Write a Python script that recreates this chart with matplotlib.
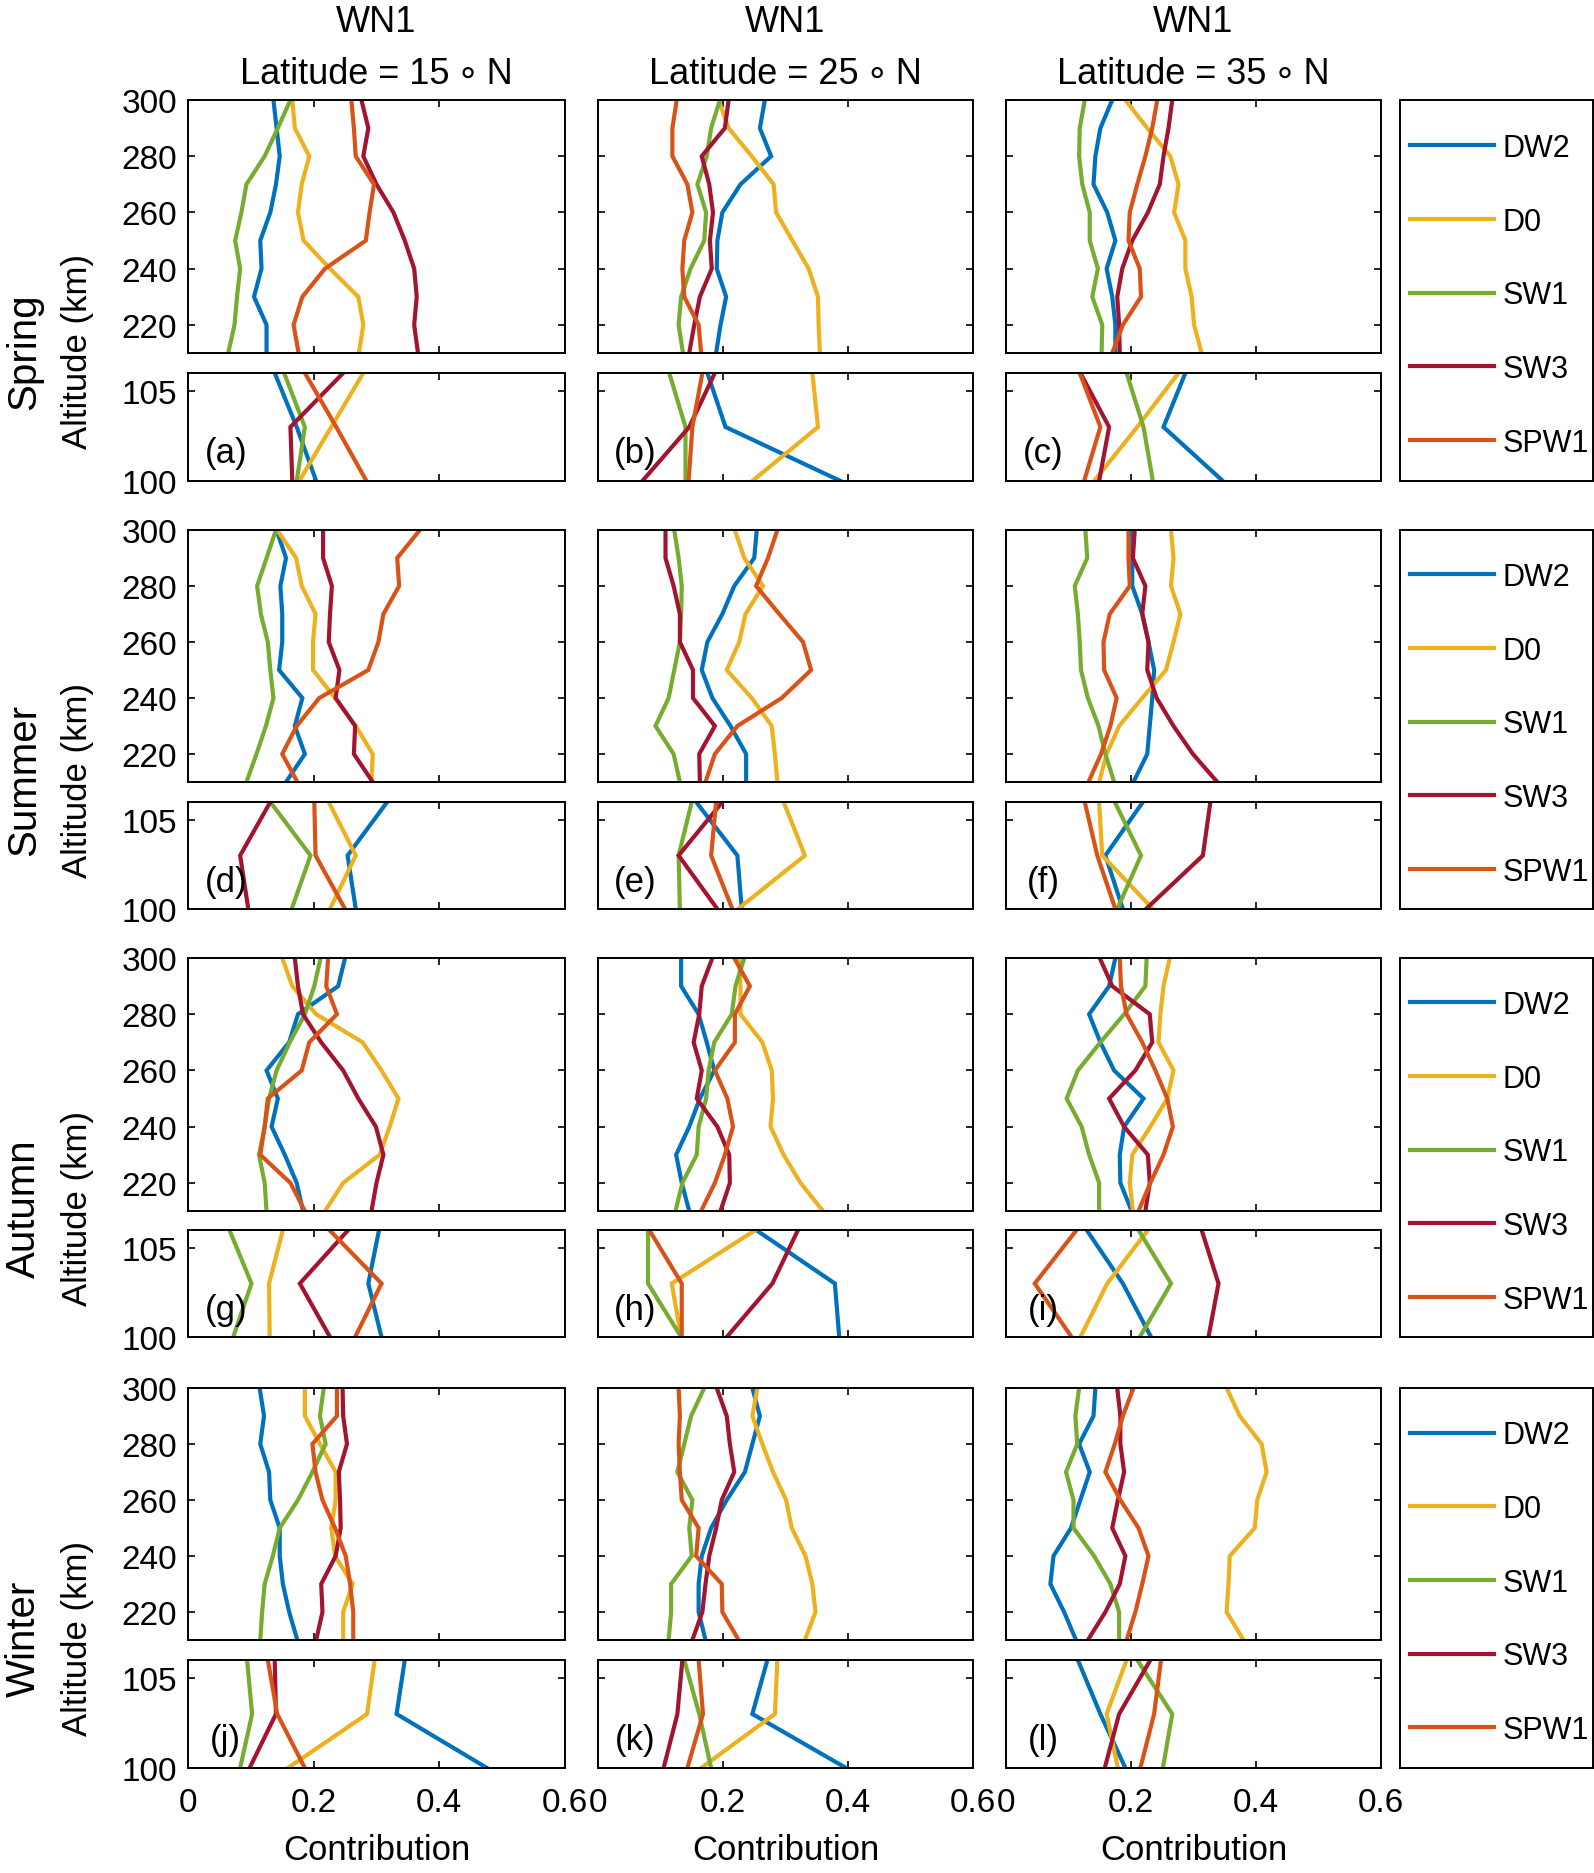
import matplotlib
matplotlib.use("Agg")
import matplotlib.pyplot as plt
import numpy as np

# ---------------- data ----------------
series = ["DW2", "D0", "SW1", "SW3", "SPW1"]
colors = ["#0072BD", "#EDB120", "#77AC30", "#A2142F", "#D95319"]
alt_upper = [210, 220, 230, 240, 250, 260, 270, 280, 290, 300]
alt_lower = [100, 103, 106]
seasons = ["Spring", "Summer", "Autumn", "Winter"]
latitudes = [15, 25, 35]
panel_letters = ["a", "b", "c", "d", "e", "f", "g", "h", "i", "j", "k", "l"]
xtick_vals = [0, 0.2, 0.4, 0.6]
xtick_labels = ["0", "0.2", "0.4", "0.6"]

# rows: DW2, D0, SW1, SW3, SPW1
a_up = [[0.125,0.125,0.105,0.117,0.115,0.131,0.140,0.146,0.141,0.136],
        [0.272,0.279,0.271,0.226,0.184,0.175,0.181,0.193,0.170,0.166],
        [0.064,0.074,0.078,0.083,0.075,0.085,0.093,0.122,0.143,0.163],
        [0.366,0.360,0.364,0.360,0.345,0.327,0.300,0.279,0.287,0.276],
        [0.176,0.168,0.182,0.218,0.283,0.289,0.296,0.267,0.264,0.260]]
a_lo = [[0.204,0.173,0.138],[0.177,0.228,0.279],[0.173,0.186,0.153],
        [0.166,0.163,0.247],[0.284,0.236,0.186]]
b_up = [[0.189,0.196,0.205,0.190,0.191,0.199,0.228,0.277,0.259,0.267],
        [0.355,0.353,0.352,0.337,0.311,0.285,0.281,0.246,0.209,0.193],
        [0.136,0.129,0.133,0.148,0.170,0.173,0.159,0.174,0.181,0.195],
        [0.146,0.154,0.163,0.182,0.179,0.184,0.178,0.166,0.203,0.209],
        [0.165,0.161,0.138,0.135,0.138,0.151,0.143,0.119,0.119,0.126]]
b_lo = [[0.388,0.204,0.175],[0.247,0.352,0.343],[0.140,0.140,0.114],
        [0.071,0.146,0.187],[0.145,0.151,0.167]]
c_up = [[0.175,0.175,0.170,0.161,0.175,0.162,0.140,0.143,0.151,0.170],
        [0.313,0.301,0.297,0.287,0.287,0.269,0.276,0.263,0.226,0.191],
        [0.153,0.154,0.138,0.147,0.134,0.134,0.122,0.117,0.118,0.126],
        [0.182,0.181,0.178,0.186,0.202,0.227,0.246,0.252,0.260,0.266],
        [0.170,0.187,0.216,0.214,0.196,0.198,0.210,0.223,0.234,0.242]]
c_lo = [[0.347,0.252,0.287],[0.141,0.210,0.276],[0.235,0.220,0.193],
        [0.149,0.165,0.119],[0.125,0.151,0.118]]
d_up = [[0.156,0.186,0.170,0.182,0.145,0.150,0.150,0.147,0.156,0.141],
        [0.292,0.294,0.267,0.234,0.199,0.199,0.203,0.181,0.172,0.142],
        [0.093,0.109,0.124,0.136,0.131,0.127,0.116,0.110,0.125,0.140],
        [0.294,0.264,0.266,0.235,0.241,0.224,0.226,0.229,0.215,0.215],
        [0.174,0.150,0.173,0.209,0.287,0.303,0.311,0.336,0.333,0.369]]
d_lo = [[0.267,0.254,0.317],[0.226,0.267,0.224],[0.165,0.195,0.131],
        [0.096,0.083,0.131],[0.250,0.203,0.201]]
e_up = [[0.237,0.237,0.212,0.183,0.166,0.175,0.199,0.218,0.250,0.254],
        [0.287,0.283,0.278,0.246,0.206,0.226,0.236,0.264,0.234,0.219],
        [0.131,0.121,0.092,0.113,0.122,0.131,0.133,0.134,0.129,0.122],
        [0.163,0.162,0.187,0.152,0.152,0.131,0.131,0.121,0.108,0.108],
        [0.172,0.187,0.223,0.294,0.341,0.328,0.290,0.253,0.272,0.287]]
e_lo = [[0.230,0.223,0.157],[0.224,0.331,0.297],[0.131,0.129,0.150],
        [0.191,0.129,0.199],[0.215,0.181,0.189]]
f_up = [[0.204,0.226,0.230,0.234,0.237,0.228,0.218,0.202,0.202,0.202],
        [0.149,0.161,0.181,0.218,0.256,0.268,0.279,0.264,0.268,0.264],
        [0.173,0.159,0.148,0.131,0.120,0.118,0.115,0.110,0.130,0.127],
        [0.338,0.299,0.268,0.241,0.226,0.228,0.218,0.223,0.203,0.206],
        [0.132,0.152,0.167,0.177,0.157,0.156,0.166,0.198,0.196,0.196]]
f_lo = [[0.187,0.159,0.219],[0.235,0.154,0.149],[0.178,0.216,0.174],
        [0.224,0.315,0.327],[0.175,0.146,0.126]]
g_up = [[0.183,0.173,0.154,0.133,0.143,0.125,0.161,0.175,0.239,0.250],
        [0.218,0.247,0.305,0.321,0.335,0.308,0.278,0.204,0.166,0.150],
        [0.125,0.122,0.113,0.122,0.129,0.141,0.162,0.186,0.201,0.211],
        [0.292,0.300,0.311,0.299,0.271,0.247,0.212,0.183,0.175,0.170],
        [0.186,0.163,0.115,0.122,0.127,0.181,0.193,0.237,0.220,0.223]]
g_lo = [[0.308,0.287,0.304],[0.130,0.129,0.151],[0.072,0.101,0.066],
        [0.226,0.178,0.255],[0.266,0.308,0.225]]
h_up = [[0.146,0.134,0.125,0.146,0.163,0.186,0.174,0.161,0.133,0.133],
        [0.360,0.324,0.297,0.276,0.280,0.278,0.263,0.228,0.228,0.226],
        [0.124,0.135,0.158,0.161,0.173,0.177,0.186,0.214,0.220,0.234],
        [0.196,0.211,0.210,0.191,0.158,0.166,0.153,0.162,0.166,0.183],
        [0.165,0.187,0.203,0.216,0.207,0.187,0.219,0.219,0.243,0.218]]
h_lo = [[0.386,0.379,0.253],[0.133,0.118,0.252],[0.133,0.080,0.080],
        [0.206,0.279,0.320],[0.134,0.134,0.082]]
i_up = [[0.201,0.183,0.182,0.189,0.220,0.173,0.151,0.133,0.165,0.175],
        [0.203,0.198,0.202,0.231,0.258,0.268,0.244,0.247,0.252,0.262],
        [0.149,0.149,0.133,0.121,0.097,0.115,0.151,0.189,0.223,0.225],
        [0.223,0.230,0.227,0.189,0.165,0.207,0.234,0.230,0.170,0.150],
        [0.212,0.231,0.252,0.267,0.258,0.239,0.218,0.193,0.184,0.182]]
i_lo = [[0.232,0.187,0.129],[0.119,0.162,0.227],[0.214,0.264,0.212],
        [0.324,0.340,0.313],[0.105,0.046,0.113]]
j_up = [[0.174,0.161,0.151,0.146,0.146,0.131,0.129,0.115,0.121,0.114],
        [0.247,0.247,0.262,0.234,0.228,0.235,0.235,0.210,0.186,0.186],
        [0.115,0.118,0.122,0.135,0.146,0.175,0.198,0.219,0.210,0.216],
        [0.204,0.214,0.212,0.235,0.243,0.242,0.240,0.253,0.247,0.246],
        [0.263,0.263,0.258,0.251,0.234,0.214,0.203,0.198,0.237,0.237]]
j_lo = [[0.476,0.332,0.345],[0.159,0.285,0.297],[0.083,0.102,0.094],
        [0.098,0.140,0.138],[0.186,0.142,0.127]]
k_up = [[0.172,0.161,0.161,0.166,0.181,0.206,0.235,0.247,0.259,0.247],
        [0.331,0.348,0.343,0.332,0.310,0.301,0.280,0.263,0.247,0.255],
        [0.113,0.117,0.117,0.150,0.146,0.151,0.127,0.138,0.149,0.170],
        [0.151,0.167,0.172,0.178,0.189,0.198,0.218,0.211,0.206,0.190],
        [0.225,0.199,0.198,0.157,0.161,0.134,0.131,0.129,0.131,0.129]]
k_lo = [[0.397,0.247,0.271],[0.165,0.283,0.287],[0.181,0.162,0.138],
        [0.105,0.127,0.135],[0.143,0.168,0.161]]
l_up = [[0.112,0.093,0.071,0.076,0.104,0.119,0.134,0.117,0.140,0.143],
        [0.380,0.353,0.356,0.358,0.398,0.402,0.417,0.409,0.374,0.353],
        [0.181,0.181,0.167,0.141,0.108,0.108,0.096,0.114,0.111,0.117],
        [0.131,0.159,0.182,0.191,0.170,0.179,0.189,0.183,0.183,0.178],
        [0.193,0.207,0.218,0.228,0.212,0.183,0.159,0.174,0.187,0.204]]
l_lo = [[0.191,0.151,0.115],[0.179,0.161,0.193],[0.251,0.266,0.210],
        [0.158,0.181,0.231],[0.215,0.237,0.248]]

upper_data = [a_up, b_up, c_up, d_up, e_up, f_up, g_up, h_up, i_up, j_up, k_up, l_up]
lower_data = [a_lo, b_lo, c_lo, d_lo, e_lo, f_lo, g_lo, h_lo, i_lo, j_lo, k_lo, l_lo]

# ---------------- layout ----------------
W, H = 1594, 1874
plt.rcParams['font.family'] = ['Liberation Sans', 'DejaVu Sans']
fig = plt.figure(figsize=(W / 100, H / 100), dpi=100)

def rect(x0, y0, x1, y1):
    return [x0 / W, 1 - y1 / H, (x1 - x0) / W, (y1 - y0) / H]

cols = [(188, 565), (598, 973), (1006, 1381)]
rows_up = [(101, 354), (531, 783), (959, 1212), (1389, 1641)]
rows_lo = [(374, 482), (803, 910), (1231, 1338), (1661, 1769)]
leg_x = (1400, 1593)

TICK_FS = 24
LEG_FS = 22
LBL_FS = 25
LW = 3.0

def style(ax, show_y, show_x):
    ax.set_xlim(0, 0.6)
    ax.set_xticks(xtick_vals)
    ax.tick_params(direction='in', top=True, right=True, length=5, width=1.2,
                   labelsize=TICK_FS, pad=8)
    for s in ax.spines.values():
        s.set_linewidth(1.4)
    if show_x:
        ax.set_xticklabels(xtick_labels)
        ax.tick_params(axis='x', pad=14)
    else:
        ax.set_xticklabels([])
    if not show_y:
        ax.set_yticklabels([])

for r in range(4):
    handles = []
    for c in range(3):
        idx = r * 3 + c
        axu = fig.add_axes(rect(cols[c][0], rows_up[r][0], cols[c][1], rows_up[r][1]))
        axl = fig.add_axes(rect(cols[c][0], rows_lo[r][0], cols[c][1], rows_lo[r][1]))
        for k in range(5):
            ln, = axu.plot(upper_data[idx][k], alt_upper, color=colors[k], lw=LW,
                           label=series[k], solid_joinstyle='miter')
            axl.plot(lower_data[idx][k], alt_lower, color=colors[k], lw=LW,
                     solid_joinstyle='miter')
            if c == 0:
                handles.append(ln)
        axu.set_ylim(210, 300)
        axu.set_yticks([220, 240, 260, 280, 300])
        axl.set_ylim(100, 106)
        axl.set_yticks([100, 105])
        style(axu, c == 0, False)
        style(axl, c == 0, r == 3)
        axl.text(0.10, 0.26, "(%s)" % panel_letters[idx], transform=axl.transAxes,
                 fontsize=LBL_FS, ha='center', va='center')
        if r == 0:
            xc = (cols[c][0] + cols[c][1]) / 2 / W
            fig.text(xc, 1 - 23 / H, "WN1", fontsize=26, ha='center', va='center')
            fig.text(xc, 1 - 75 / H, "Latitude = %d\u2009\u2218\u2009N" % latitudes[c],
                     fontsize=26, ha='center', va='center')
        if r == 3:
            xc = (cols[c][0] + cols[c][1]) / 2 / W
            fig.text(xc, 1 - 1851 / H, "Contribution", fontsize=LBL_FS,
                     ha='center', va='center')
    # legend box
    axg = fig.add_axes(rect(leg_x[0], rows_up[r][0], leg_x[1], rows_lo[r][1]))
    axg.set_xticks([])
    axg.set_yticks([])
    for s in axg.spines.values():
        s.set_linewidth(1.4)
    axg.legend(handles=handles, loc='center left', bbox_to_anchor=(0.01, 0.4875),
               frameon=False, fontsize=LEG_FS,
               handlelength=2.75, handletextpad=0.3, labelspacing=1.43,
               borderaxespad=0.0, borderpad=0.25)
    # row labels
    yc = (rows_up[r][0] + rows_lo[r][1]) / 2 + 60
    fig.text(24 / W, 1 - yc / H, seasons[r], rotation=90, fontsize=29,
             ha='center', va='center')
    fig.text(78 / W, 1 - yc / H, "Altitude (km)", rotation=90, fontsize=LBL_FS,
             ha='center', va='center')

fig.savefig("out.png", dpi=100)
